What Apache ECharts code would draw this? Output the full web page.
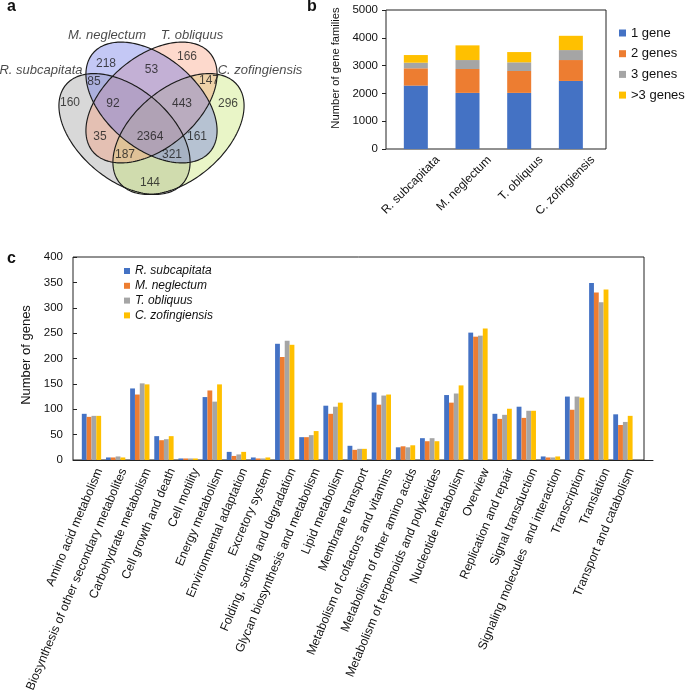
<!DOCTYPE html>
<html><head><meta charset="utf-8">
<script src="https://cdn.jsdelivr.net/npm/echarts@6/dist/echarts.min.js"></script>
<style>html,body{margin:0;padding:0;background:#fff}#c{width:685px;height:696px}</style>
</head><body><div id="c"></div>
<script>
// ---------- Panel a: Venn ----------
const vennSets = ['R. subcapitata', 'M. neglectum', 'T. obliquus', 'C. zofingiensis'];
const vennRegions = ['A', 'B', 'C', 'D', 'AB', 'BC', 'CD', 'ABC', 'BCD', 'AC', 'ABCD', 'BD', 'ACD', 'ABD', 'AD'];
const vennCounts = [160, 218, 166, 296, 85, 53, 147, 92, 443, 35, 2364, 161, 187, 321, 144];

// ---------- Panel b ----------
const speciesB = ['R. subcapitata', 'M. neglectum', 'T. obliquus', 'C. zofingiensis'];
const famClasses = ['1 gene', '2 genes', '3 genes', '>3 genes'];
const fam1 = [2280, 2018, 2018, 2448];
const fam2 = [623, 860, 788, 752];
const fam3 = [201, 322, 312, 359];
const fam4 = [276, 528, 369, 513];
const famTicks = [0, 1000, 2000, 3000, 4000, 5000];

// ---------- Panel c ----------
const keggCats = ['Amino acid metabolism', 'Biosynthesis of other secondary metabolites', 'Carbohydrate metabolism',
  'Cell growth and death', 'Cell motility', 'Energy metabolism', 'Environmental adaptation', 'Excretory system',
  'Folding, sorting and degradation', 'Glycan biosynthesis and metabolism', 'Lipid metabolism', 'Membrane transport',
  'Metabolism of cofactors and vitamins', 'Metabolism of other amino acids', 'Metabolism of terpenoids and polyketides',
  'Nucleotide metabolism', 'Overview', 'Replication and repair', 'Signal transduction',
  'Signaling molecules  and interaction', 'Transcription', 'Translation', 'Transport and catabolism'];
const rSub = [91, 5, 141, 47, 3, 124, 16, 5, 229, 45, 107, 28, 133, 25, 43, 128, 251, 91, 105, 7, 125, 349, 90];
const mNeg = [85, 5, 129, 39, 3, 137, 8, 3, 203, 45, 91, 20, 109, 27, 37, 113, 243, 81, 83, 5, 99, 330, 69];
const tObl = [87, 7, 151, 41, 3, 115, 11, 3, 235, 49, 105, 22, 127, 25, 43, 131, 245, 89, 97, 5, 125, 311, 75];
const cZof = [87, 5, 149, 47, 3, 149, 16, 5, 227, 57, 113, 22, 129, 29, 37, 147, 259, 101, 97, 7, 123, 336, 87];
const geneTicks = [0, 50, 100, 150, 200, 250, 300, 350, 400];

// ---------- layout (not data) ----------
const F = "'Liberation Sans', Arial, Helvetica, sans-serif";
// ellipse geometry in panel-a pixel space: cx, cy, rx, ry, angle (deg, clockwise)
const vennShape = {
  A: [124.5, 134, 76.5, 45.8, 40],
  B: [151.5, 102.5, 76.5, 45.8, 40],
  C: [151.5, 102.5, 76.5, 45.8, -40],
  D: [178.5, 134, 76.5, 45.8, -40]
};
const vennFill = {A: 'rgba(125,125,125,0.30)', B: 'rgba(100,110,230,0.38)', C: 'rgba(250,150,115,0.36)', D: 'rgba(195,228,100,0.36)'};
const vennDrawOrder = ['A', 'D', 'C', 'B'];
const vennRegionPos = {A: [70, 103], B: [106, 64], C: [187, 57], D: [228, 104], AB: [94, 82], BC: [151.5, 70],
  CD: [209, 81], ABC: [113, 104], BCD: [182, 104], AC: [100, 137], ABCD: [150, 137], BD: [197, 137],
  ACD: [125, 155], ABD: [172, 155], AD: [150, 183]};
const vennSetPos = [[41, 70], [107, 35], [192, 35], [260, 70]];

const barColors = ['#4472C4', '#ED7D31', '#A5A5A5', '#FFC000'];

function ellipseItem(key, fill, stroke) {
  return function (params, api) {
    const [cx, cy, rx, ry, ang] = vennShape[key];
    const th = ang * Math.PI / 180;
    const pts = [];
    for (let k = 0; k < 200; k++) {
      const t = k / 200 * 2 * Math.PI;
      pts.push(api.coord([
        cx + rx * Math.cos(t) * Math.cos(th) - ry * Math.sin(t) * Math.sin(th),
        cy + rx * Math.cos(t) * Math.sin(th) + ry * Math.sin(t) * Math.cos(th)
      ]));
    }
    return {type: 'polygon', shape: {points: pts}, style: {fill: fill, stroke: stroke, lineWidth: 1.15}};
  };
}

const series = [];
vennDrawOrder.forEach(k => {
  series.push({type: 'custom', name: 'venn-fill-' + k, xAxisIndex: 0, yAxisIndex: 0, silent: true,
    data: [[vennShape[k][0], vennShape[k][1]]], renderItem: ellipseItem(k, vennFill[k], null)});
});
vennDrawOrder.forEach(k => {
  series.push({type: 'custom', name: 'venn-line-' + k, xAxisIndex: 0, yAxisIndex: 0, silent: true, z: 3,
    data: [[vennShape[k][0], vennShape[k][1]]], renderItem: ellipseItem(k, 'none', '#1b1b1b')});
});
series.push({type: 'scatter', name: 'venn-counts', xAxisIndex: 0, yAxisIndex: 0, symbolSize: 0, silent: true, z: 5,
  data: vennRegions.map((r, i) => [vennRegionPos[r][0], vennRegionPos[r][1], vennCounts[i]]),
  label: {show: true, position: 'inside', formatter: p => String(p.value[2]), color: '#1a1a1a', fontSize: 12, fontFamily: F}});
series.push({type: 'scatter', name: 'venn-sets', xAxisIndex: 0, yAxisIndex: 0, symbolSize: 0, silent: true, z: 5,
  data: vennSets.map((s, i) => [vennSetPos[i][0], vennSetPos[i][1], s]),
  label: {show: true, position: 'inside', formatter: p => p.value[2], color: '#1a1a1a', fontSize: 13, fontStyle: 'italic', fontFamily: F}});

[fam1, fam2, fam3, fam4].forEach((arr, i) => {
  series.push({type: 'bar', name: famClasses[i], stack: 'fam', xAxisIndex: 2, yAxisIndex: 2, data: arr,
    barWidth: 24, itemStyle: {color: barColors[i]}});
});
[rSub, mNeg, tObl, cZof].forEach((arr, i) => {
  series.push({type: 'bar', name: speciesB[i], xAxisIndex: 5, yAxisIndex: 5, data: arr,
    barGap: '0%', barCategoryGap: '20%', itemStyle: {color: barColors[i]}});
});

const hidV = (g, extra) => Object.assign({gridIndex: g, type: 'value', show: false, splitLine: {show: false}}, extra || {});
const shiftB = 22, shiftC = 8;
const panelTitle = (t, l, tp) => ({text: t, left: l, top: tp, padding: 0,
  textStyle: {fontSize: 16, fontWeight: 'bold', color: '#111', fontFamily: F}});

const option = {
  animation: false,
  backgroundColor: '#fff',
  textStyle: {fontFamily: F},
  title: [panelTitle('a', 7, -1), panelTitle('b', 307, -1), panelTitle('c', 7, 251)],
  legend: [
    {data: famClasses, orient: 'vertical', left: 619, top: 26, padding: 0, icon: 'rect', itemWidth: 7, itemHeight: 7,
      itemGap: 6.7, textStyle: {fontSize: 13, lineHeight: 14, color: '#111', fontFamily: F}},
    {data: speciesB, orient: 'vertical', left: 124, top: 265, padding: 0, icon: 'rect', itemWidth: 6, itemHeight: 6,
      itemGap: 2.8, textStyle: {fontSize: 12, lineHeight: 12, fontStyle: 'italic', color: '#111', fontFamily: F}}
  ],
  grid: [
    {left: 0, top: 0, width: 320, height: 240},
    {left: 386, top: 10, width: 220, height: 139, show: true, borderColor: '#222', borderWidth: 1, backgroundColor: 'transparent'},
    {left: 390, top: 10, width: 206.7, height: 139},
    {left: 390 + shiftB, top: 10, width: 206.7, height: 139},
    {left: 73, top: 257, width: 571, height: 203, show: true, borderColor: '#222', borderWidth: 1, backgroundColor: 'transparent'},
    {left: 79.4, top: 257, width: 555.6, height: 203},
    {left: 79.4 + shiftC, top: 257, width: 555.6, height: 203},
    {left: 73, top: 257, width: 580, height: 203}
  ],
  xAxis: [
    hidV(0, {min: 0, max: 320}),
    hidV(1, {min: 0, max: 1}),
    {gridIndex: 2, type: 'category', data: speciesB, show: false},
    {gridIndex: 3, type: 'category', data: speciesB, axisLine: {show: false}, axisTick: {show: false},
      axisLabel: {rotate: 45, margin: 9, fontSize: 12, color: '#111', fontFamily: F, interval: 0}},
    hidV(4, {min: 0, max: 1}),
    {gridIndex: 5, type: 'category', data: keggCats, show: false},
    {gridIndex: 6, type: 'category', data: keggCats, axisLine: {show: false}, axisTick: {show: false},
      axisLabel: {rotate: 67, margin: 9, fontSize: 12.25, color: '#111', fontFamily: F, interval: 0}},
    {gridIndex: 7, type: 'value', min: 0, max: 1, axisLine: {show: true, lineStyle: {color: '#222', width: 1}},
      axisTick: {show: false}, axisLabel: {show: false}, splitLine: {show: false}}
  ],
  yAxis: [
    hidV(0, {min: 0, max: 240, inverse: true}),
    hidV(1, {min: 0, max: 1}),
    {gridIndex: 2, type: 'value', min: famTicks[0], max: famTicks[famTicks.length - 1], interval: 1000, offset: 4,
      axisLine: {show: false}, axisTick: {show: true, length: 4, lineStyle: {color: '#222'}},
      axisLabel: {margin: 8, fontSize: 11.5, color: '#111', fontFamily: F, formatter: v => String(v)}, splitLine: {show: false},
      name: 'Number of gene families', nameLocation: 'middle', nameGap: 45,
      nameTextStyle: {fontSize: 11.2, color: '#111', fontFamily: F, padding: [0, 0, 0, 23]}},
    hidV(3),
    hidV(4, {min: 0, max: 1}),
    {gridIndex: 5, type: 'value', min: geneTicks[0], max: geneTicks[geneTicks.length - 1], interval: 50, offset: 6.4,
      axisLine: {show: false}, axisTick: {show: true, inside: true, length: 4, lineStyle: {color: '#222'}},
      axisLabel: {margin: 10, fontSize: 11.5, color: '#111', fontFamily: F, formatter: v => String(v)}, splitLine: {show: false},
      name: 'Number of genes', nameLocation: 'middle', nameGap: 38,
      nameTextStyle: {fontSize: 13, color: '#111', fontFamily: F, padding: [0, 0, 0, 7]}},
    hidV(6),
    hidV(7, {min: 0, max: 1})
  ],
  series: series
};
const chart = echarts.init(document.getElementById('c'));
chart.setOption(option);
</script></body></html>
